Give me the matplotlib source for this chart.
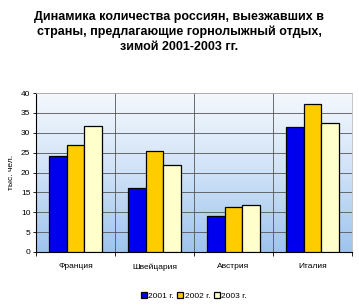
import matplotlib.pyplot as plt
import numpy as np
from matplotlib.colors import LinearSegmentedColormap

# данные
strany = ["Франция", "Швейцария", "Австрия", "Италия"]
goda = ["2001 г.", "2002 г.", "2003 г."]
v2001 = [24.2, 16.0, 9.0, 31.5]
v2002 = [26.9, 25.5, 11.4, 37.2]
v2003 = [31.8, 22.0, 11.9, 32.5]
y_ticks = [0, 5, 10, 15, 20, 25, 30, 35, 40]

plt.rcParams['font.family'] = ['Liberation Sans', 'DejaVu Sans']

fig = plt.figure(figsize=(3.59, 3.08), dpi=100)
ax = fig.add_axes([36 / 359, 1 - 252 / 308, 316 / 359, 159 / 308])

# фон-градиент
grad = np.linspace(0, 1, 256).reshape(-1, 1)
cmap = LinearSegmentedColormap.from_list("bg", ["#9ec4ee", "#cfe2f7", "#f4f8fd"])
ax.imshow(grad, extent=[-0.5, 3.5, 0, 40], aspect="auto", cmap=cmap,
          origin="lower", zorder=0)

x = np.arange(len(strany))
w = 0.22
kw = dict(edgecolor="black", linewidth=0.9, zorder=3)
ax.bar(x - w, v2001, w, color="#0000ee", label=goda[0], **kw)
ax.bar(x, v2002, w, color="#ffcc00", label=goda[1], **kw)
ax.bar(x + w, v2003, w, color="#ffffcc", label=goda[2], **kw)

ax.set_xlim(-0.5, 3.5)
ax.set_ylim(0, 40)
ax.set_yticks(y_ticks)
ax.tick_params(axis="y", labelsize=6, length=2, width=0.6, pad=2)

ax.set_xticks(x)
ax.set_xticklabels(strany, fontsize=6)
ax.tick_params(axis="x", length=0, pad=8)
ax.set_xticks(np.arange(-0.5, 4, 1), minor=True)
ax.tick_params(axis="x", which="minor", length=3, width=0.6)

ax.grid(axis="y", color="#555555", linewidth=0.6, zorder=1)
ax.grid(axis="x", which="minor", color="#555555", linewidth=0.6, zorder=1)
ax.set_axisbelow(True)

for s in ["top", "right"]:
    ax.spines[s].set_color("#bbbbbb")
    ax.spines[s].set_linewidth(0.6)
for s in ["left", "bottom"]:
    ax.spines[s].set_linewidth(0.8)

ax.set_ylabel("тыс. чел.", fontsize=6, labelpad=4)

fig.text(0.5, 1 - 32 / 308,
         "Динамика количества россиян, выезжавших в\n"
         "страны, предлагающие горнолыжный отдых,\n"
         "зимой 2001-2003 гг.",
         ha="center", va="center", fontsize=9, fontweight="bold",
         linespacing=1.3)

fig.legend(loc="center", bbox_to_anchor=(0.54, 1 - 296 / 308), ncol=3,
           frameon=False, fontsize=6, handlelength=0.7, handleheight=0.7,
           handletextpad=0.2, columnspacing=0.4)

fig.savefig("out.png", dpi=100)
